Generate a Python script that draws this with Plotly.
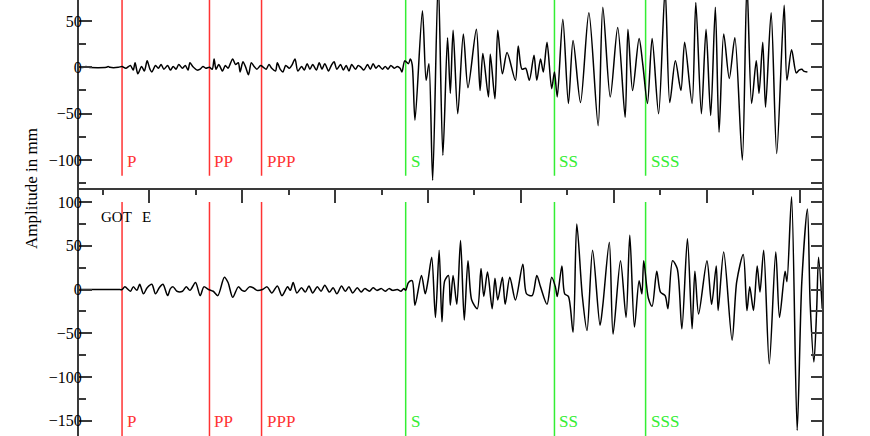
import plotly.graph_objects as go

# seismogram traces (time in s, amplitude in mm)
top_time = [25, 30, 32, 35, 54, 56, 58, 67, 71, 75,
            80, 83, 85, 88, 92, 95, 98, 101, 103, 107,
            110, 113, 116, 120, 123, 126, 129, 132, 136, 139,
            142, 144, 147, 152, 155, 158, 161, 165, 168, 170,
            172, 175, 179, 182, 185, 187, 190, 193, 196, 198,
            201, 204, 207, 210, 213, 216, 220, 223, 226, 229,
            232, 236, 238, 241, 244, 247, 251, 254, 257, 260,
            264, 267, 270, 273, 276, 280, 283, 286, 289, 293,
            296, 299, 302, 306, 309, 312, 315, 318, 322, 325,
            328, 331, 335, 338, 341, 344, 347, 351, 354, 357,
            360, 364, 367, 370, 372, 375, 379, 381, 383, 386,
            394, 398, 401, 405, 411, 416, 421, 424, 427, 432,
            438, 443, 452, 456, 459, 465, 467, 472, 475, 480,
            485, 494, 497, 501, 505, 509, 514, 517, 521, 524,
            528, 533, 536, 539, 545, 551, 556, 564, 573, 583,
            588, 596, 604, 612, 615, 620, 627, 631, 636, 641,
            648, 655, 660, 666, 672, 676, 684, 688, 694, 699,
            704, 709, 713, 718, 724, 730, 738, 743, 748, 753,
            756, 760, 763, 769, 775, 783, 786, 791, 796, 799,
            802, 804, 808]
top_amp = [0, 0, 1, 0, 0, 1, 0, 0, 1, -1,
           2, -3, 5, -7, 1, -4, 7, -2, -5, 2,
           -1, 3, -2, 2, -3, 1, -2, 3, -1, 2,
           -3, 5, 1, -3, -2, 1, -1, 0, -2, 9,
           -2, 3, -4, 2, -1, 3, 9, 3, 5, -5,
           6, 0, -8, 5, 1, -2, 2, 0, -2, 3,
           -1, -4, 5, -2, -5, 2, -1, 3, 9, -4,
           1, -3, 4, -2, 3, -3, 5, -2, 4, -4,
           2, 6, -2, 3, -3, 2, -4, 3, -2, 2,
           0, -3, 3, -2, 4, -1, 2, -2, 1, -2,
           2, -1, 1, -1, -5, 7, 4, 9, 3, -57,
           61, -14, 4, -122, 95, -95, 32, -28, 40, -50,
           36, -22, 41, -25, 15, -32, 14, -34, 40, -7,
           16, -14, 23, -2, -1, -14, 13, -14, 9, -5,
           27, -23, -5, -32, 52, -39, 29, -38, 59, -63,
           65, -32, 43, -54, 41, -25, 31, 3, -39, 31,
           -50, 85, -38, 7, -25, 27, -39, 70, -50, 41,
           -52, 65, -70, 36, -12, 32, -100, 90, -39, 7,
           -28, 27, -43, 59, -93, 67, -14, 19, -6, -3,
           -2, -4, -5]

bot_time = [25, 67, 71, 74, 80, 83, 87, 90, 94, 98,
            103, 107, 111, 115, 120, 123, 126, 130, 136, 140,
            144, 150, 155, 159, 164, 169, 174, 181, 185, 190,
            196, 200, 203, 208, 212, 216, 222, 227, 232, 238,
            243, 249, 252, 255, 259, 264, 268, 272, 276, 281,
            285, 289, 294, 298, 302, 307, 311, 315, 319, 324,
            328, 332, 337, 341, 345, 350, 354, 358, 362, 367,
            371, 374, 376, 379, 383, 386, 393, 397, 400, 404,
            408, 412, 415, 418, 422, 424, 427, 431, 435, 439,
            443, 447, 453, 457, 460, 464, 469, 472, 475, 480,
            483, 488, 494, 502, 506, 512, 517, 521, 528, 533,
            537, 539, 544, 547, 551, 556, 560, 566, 571, 577,
            585, 588, 595, 599, 607, 613, 617, 622, 627, 630,
            632, 637, 641, 646, 650, 655, 658, 663, 668, 673,
            679, 684, 687, 691, 700, 705, 710, 712, 718, 727,
            732, 739, 743, 746, 750, 754, 757, 761, 767, 774,
            778, 784, 786, 791, 797, 802, 808, 811, 815, 818,
            820, 824]
bot_amp = [0, 0, 0, 3, -2, 3, -1, 6, -5, 2,
           6, -5, 2, 6, -7, 1, 3, -2, -2, 3,
           -1, 8, -7, 3, 0, -2, -7, 14, 8, -9,
           3, -1, -2, 3, 2, -1, 0, 3, -4, 4,
           -7, 3, -1, 8, -4, 2, -3, 4, -4, 3,
           -2, 5, -3, 2, -5, 4, -2, 3, -4, 2,
           -3, 1, -2, 2, -1, 1, -2, 1, -1, 0,
           -2, 1, -1, 8, 10, -18, 16, -5, 10, 37,
           -32, 45, -37, 10, 16, -18, 16, -17, 56, -35,
           33, -12, -22, 24, -8, 20, -22, 13, -12, 14,
           -17, 14, -12, 29, -5, -7, 16, 3, -17, 14,
           3, -8, 27, -5, -8, -49, 75, -8, -47, 45,
           -41, -18, 54, -51, 33, -32, 62, -43, 10, -5,
           33, -10, -19, 21, -3, -7, -22, 33, 24, -45,
           58, -45, 21, -28, 33, -17, 27, -24, 43, -58,
           9, 40, -24, 3, -24, 27, -3, 45, -85, 43,
           -32, 21, 9, 106, -161, 9, 92, -17, -83, -22,
           37, -22]

# phase arrivals (s)
phases = ['P', 'PP', 'PPP', 'S', 'SS', 'SSS']
phase_times = [71, 165, 221, 376, 536, 634]

station = 'GOT'
component = 'E'

RED = '#ff3333'
GREEN = '#33ee33'
AXC = '#3a3a3a'
FONT = 'Liberation Serif'

fig = go.Figure()

# phase marker lines + labels in both panels
annotations = []
for name, t in zip(phases, phase_times):
    col = RED if name.startswith('P') else GREEN
    fig.add_trace(go.Scatter(x=[t, t], y=[-117, 200], mode='lines',
                             line=dict(color=col, width=1.5), xaxis='x', yaxis='y'))
    fig.add_trace(go.Scatter(x=[t, t], y=[100, -300], mode='lines',
                             line=dict(color=col, width=1.5), xaxis='x2', yaxis='y2'))
    annotations.append(dict(text=name, x=t, y=-102, xref='x', yref='y', xanchor='left',
                            xshift=3, showarrow=False, font=dict(family=FONT, size=17, color=col)))
    annotations.append(dict(text=name, x=t, y=-151, xref='x2', yref='y2', xanchor='left',
                            xshift=3, showarrow=False, font=dict(family=FONT, size=17, color=col)))

# traces
wiggle = dict(color='black', width=1.5, shape='spline', smoothing=0.8)
fig.add_trace(go.Scatter(x=top_time, y=top_amp, mode='lines', line=wiggle,
                         xaxis='x', yaxis='y'))
fig.add_trace(go.Scatter(x=bot_time, y=bot_amp, mode='lines', line=wiggle,
                         xaxis='x2', yaxis='y2'))

# empty traces so the right-hand tick axes exist
fig.add_trace(go.Scatter(x=[], y=[], xaxis='x', yaxis='y3'))
fig.add_trace(go.Scatter(x=[], y=[], xaxis='x2', yaxis='y4'))

# station / component label
annotations.append(dict(text=station, x=46, y=83, xref='x2', yref='y2', xanchor='left',
                        showarrow=False, font=dict(family=FONT, size=15, color='black')))
annotations.append(dict(text=component, x=90, y=83, xref='x2', yref='y2', xanchor='left',
                        showarrow=False, font=dict(family=FONT, size=15, color='black')))

# y title shared by both panels
annotations.append(dict(text='Amplitude in mm', x=-0.0646, y=0.5665, xref='paper', yref='paper',
                        xanchor='center', yanchor='middle', textangle=-90, showarrow=False,
                        font=dict(family=FONT, size=17, color='black')))

xr = [24.7, 823.7]
split = 0.5677
tickfont = dict(family=FONT, size=16, color='black')

yleft = dict(showline=True, linecolor=AXC, linewidth=2, ticks='inside', ticklen=13,
             tickwidth=1.5, tickcolor=AXC, dtick=50, tick0=0, tickfont=tickfont,
             ticklabelstandoff=-8, showgrid=False, zeroline=False,
             minor=dict(ticks='inside', ticklen=7, dtick=25, tick0=0, tickcolor=AXC,
                        tickwidth=1.5, showgrid=False))
yright = dict(side='right', showline=True, linecolor=AXC, linewidth=2, ticks='inside',
              ticklen=11, tickwidth=1.5, tickcolor=AXC, dtick=25, tick0=0,
              showticklabels=False, showgrid=False, zeroline=False)

fig.update_layout(
    width=870, height=436,
    margin=dict(l=79, r=48, t=0, b=0),
    paper_bgcolor='white', plot_bgcolor='white',
    showlegend=False,
    xaxis=dict(domain=[0, 1], range=xr, anchor='y', showline=True, linecolor=AXC,
               linewidth=2, ticks='outside', ticklen=13, tickwidth=1.5, tickcolor=AXC,
               dtick=100, tick0=0, showticklabels=False, showgrid=False, zeroline=False,
               minor=dict(ticks='outside', ticklen=5, dtick=50, tick0=0, tickcolor=AXC,
                          tickwidth=1.5, showgrid=False)),
    xaxis2=dict(domain=[0, 1], range=xr, anchor='y2', showline=False, ticks='',
                showticklabels=False, showgrid=False, zeroline=False),
    yaxis=dict(domain=[split, 1], range=[-130.8, 72.7], anchor='x', **yleft),
    yaxis2=dict(domain=[0, split], range=[-167.5, 115.5], anchor='x2', **yleft),
    yaxis3=dict(overlaying='y', anchor='x', range=[-130.8, 72.7], **yright),
    yaxis4=dict(overlaying='y2', anchor='x2', range=[-167.5, 115.5], **yright),
    annotations=annotations,
)

# drop the default page margin so the figure sits at the window's corner
fig.write_html("out.html", config={'displayModeBar': False},
               post_script="document.body.style.margin='0';")
